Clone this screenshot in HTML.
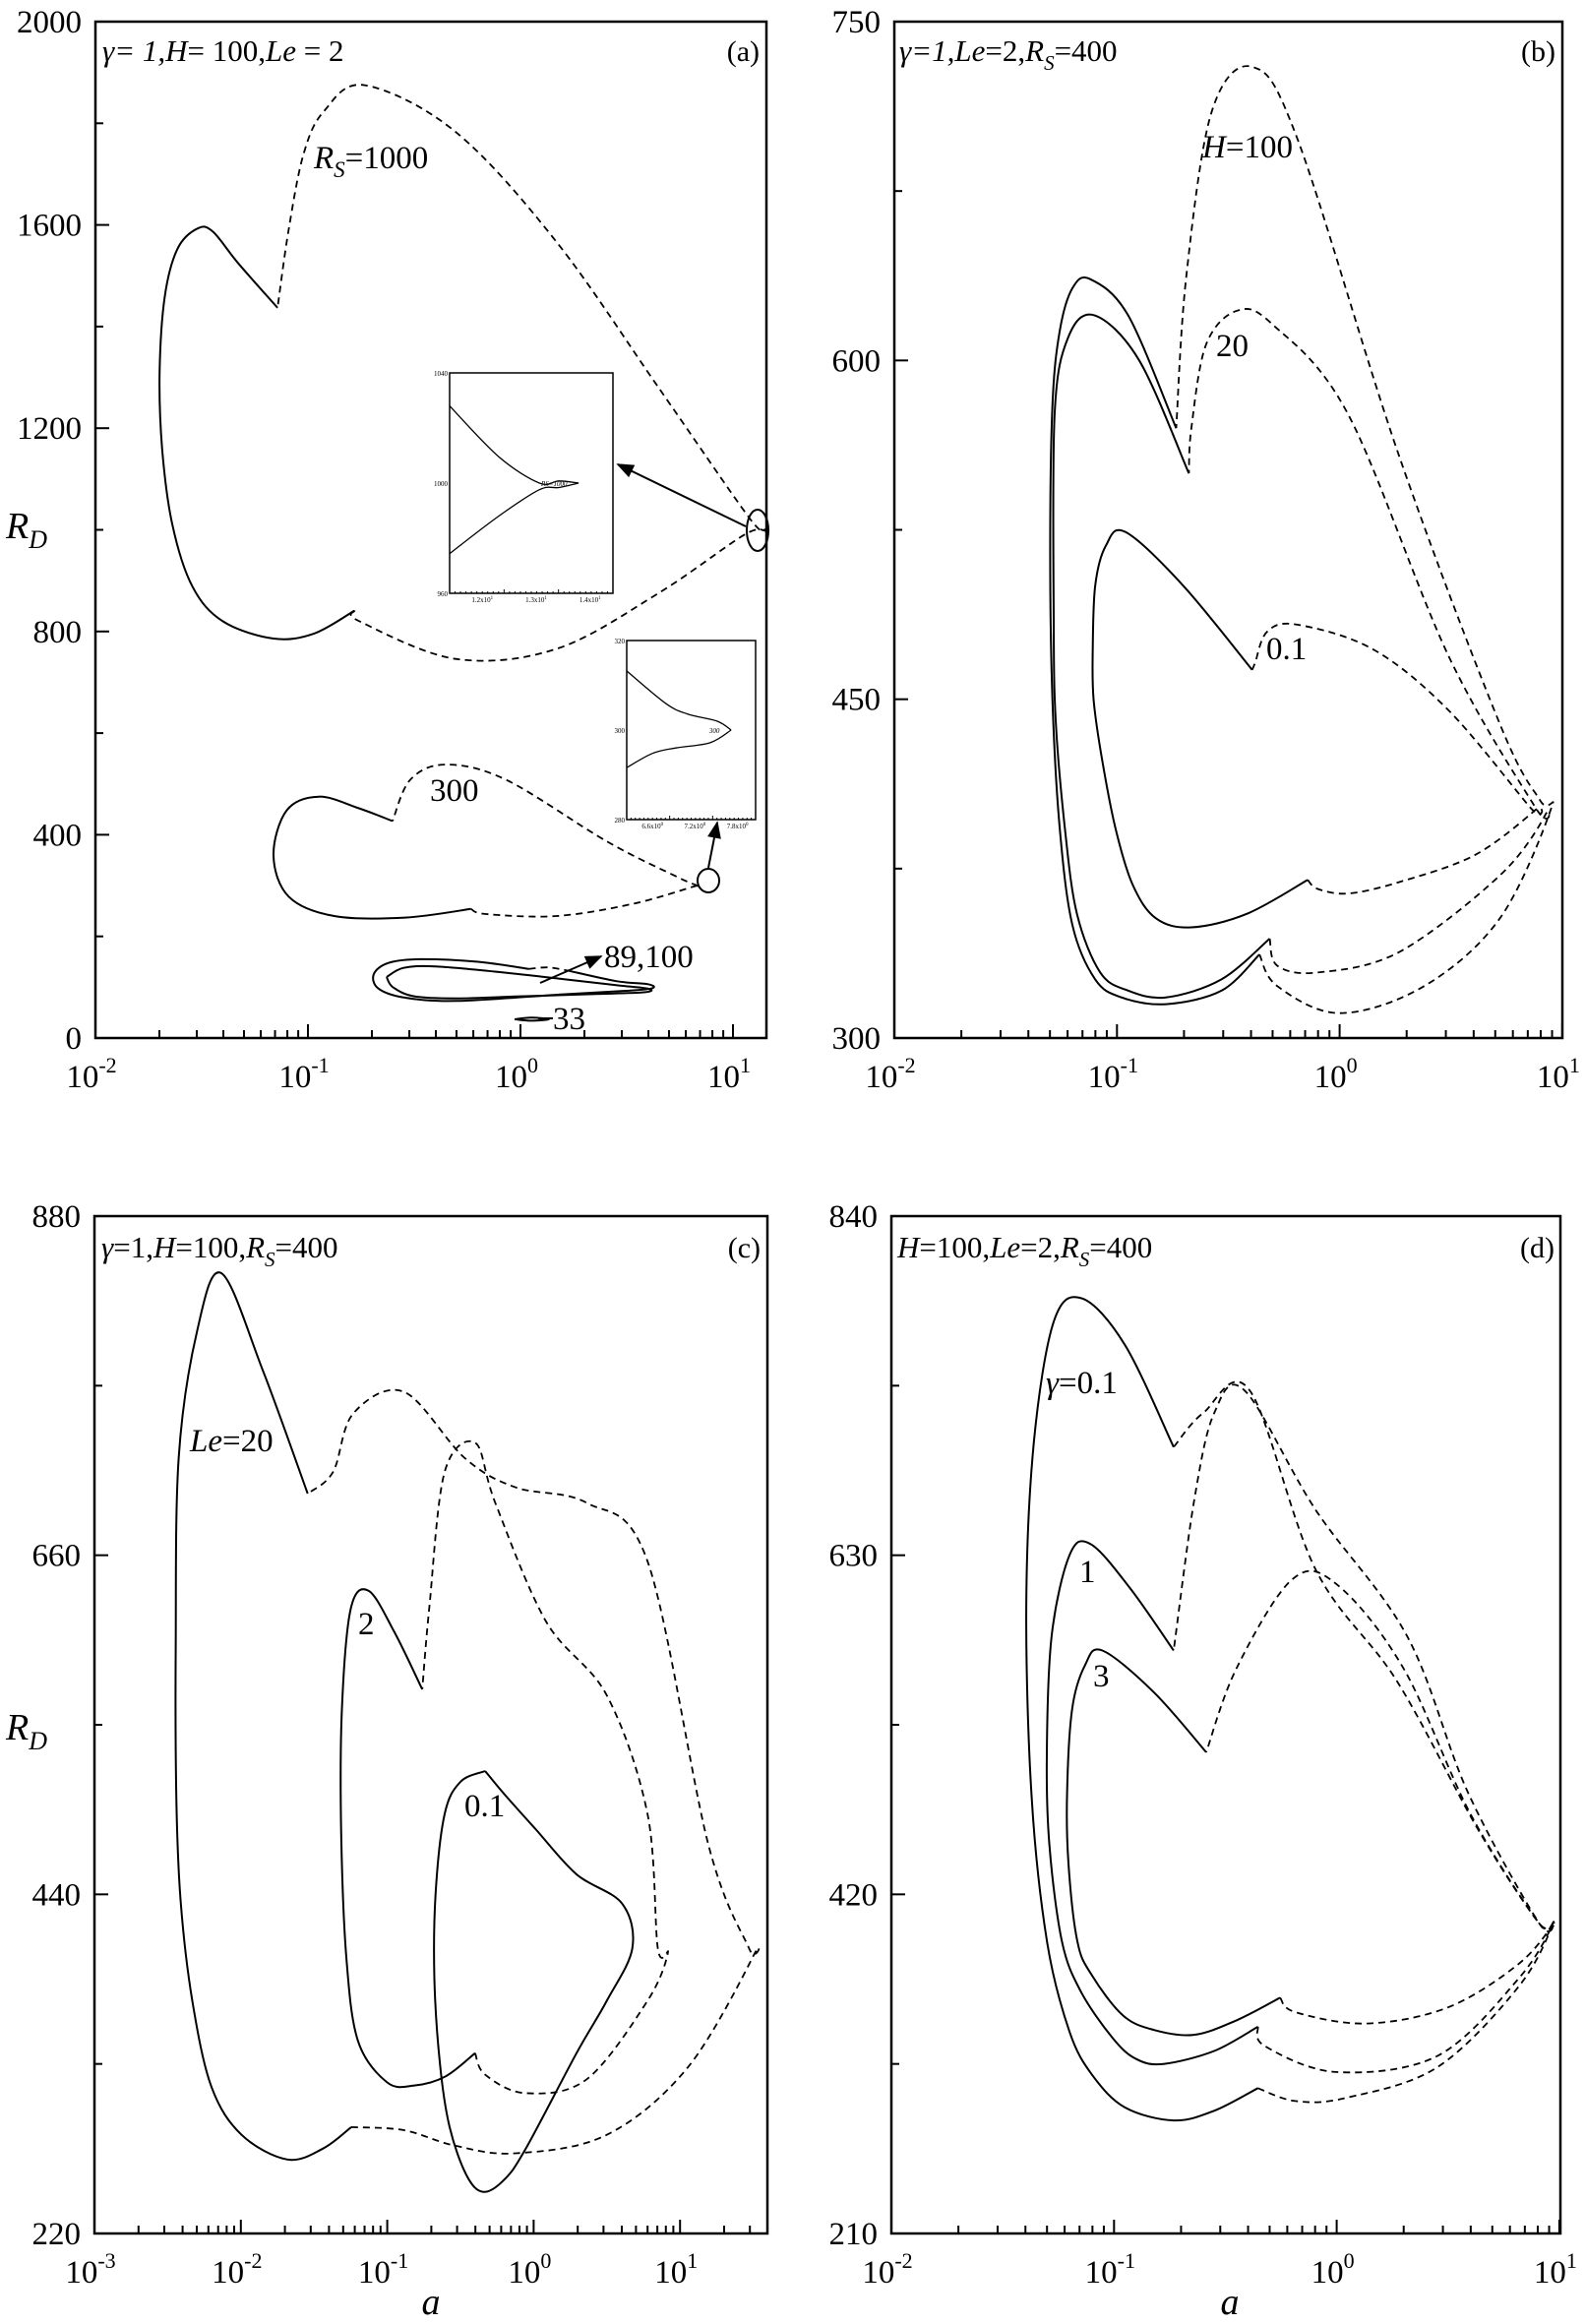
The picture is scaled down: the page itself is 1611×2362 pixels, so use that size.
<!DOCTYPE html>
<html><head><meta charset="utf-8">
<style>
html,body{margin:0;padding:0;background:#fff;}
svg{display:block;font-family:"Liberation Serif",serif;}
</style></head>
<body>
<svg id="fig" width="1611" height="2362" viewBox="0 0 1611 2362" xmlns="http://www.w3.org/2000/svg">
<rect width="1611" height="2362" fill="#fff"/>
<g id="layer"></g>
</svg>
<script>
// ---- data (x values stored as log10(a)) ----
// Panel (a)
const aRs1000SolidLog=[-0.781,-0.971,-1.162,-1.4,-1.543,-1.638,-1.686,-1.698,-1.674,-1.614,-1.519,-1.448,-1.329,-1.143];
const aRs1000SolidR=[841,796,786,820,888,1010,1159,1309,1458,1553,1593,1587,1525,1437];
const aRs1000DashLog=[-0.781,-0.757,-0.305,0.171,0.648,1.052,1.148,1.076,0.648,0.171,-0.305,-0.733,-0.924,-1.019,-1.09,-1.143];
const aRs1000DashR=[841,820,746,766,875,990,1000,1024,1281,1566,1783,1875,1824,1742,1593,1437];
const aRs300SolidLog=[-0.602,-0.76,-0.948,-1.1,-1.162,-1.09,-0.876,-0.543,-0.233];
const aRs300SolidR=[427,452,475,448,359,278,240,237,254];
const aRs300DashLog=[-0.233,-0.162,0.171,0.529,0.814,0.83,0.743,0.41,-0.067,-0.352,-0.519,-0.602];
const aRs300DashR=[254,244,240,264,298,300,316,386,508,538,508,427];
const aRs100SolidLog=[0.22,0.45,0.6,0.62,0.5,0.2,-0.3,-0.55,-0.67,-0.69,-0.62,-0.47,-0.2,0.04];
const aRs100SolidR=[133,112,106,98,93,86,73,80,98,126,148,155,150,136];
const aRs100DashLog=[0.04,0.13,0.22];
const aRs100DashR=[136,139,133];
const aRs89Log=[-0.63,-0.55,-0.4,-0.1,0.2,0.45,0.6,0.58,0.3,0,-0.3,-0.5,-0.6,-0.63];
const aRs89R=[120,138,141,130,116,104,97,90,86,82,78,82,100,120];
const aRs33Log=[-0.028,0.05,0.134,0.05,-0.028];
const aRs33R=[37,40,37,34,37];
// Panel (b)
const bH100SolidLog=[-0.36,-0.53,-0.78,-0.98,-1.098,-1.2,-1.257,-1.29,-1.3,-1.29,-1.257,-1.2,-1.12,-0.95,-0.734];
const bH100SolidR=[337,321,315,318,326,350,393,450,515,580,613,632,636,620,570];
const bH100DashLog=[-0.36,-0.28,0.0,0.38,0.72,0.948,0.902,0.72,0.266,-0.189,-0.393,-0.575,-0.689,-0.734];
const bH100DashR=[337,323,311,323,353,401,405,439,558,698,730,710,637,570];
const bH20SolidLog=[-0.314,-0.53,-0.78,-0.95,-1.075,-1.18,-1.234,-1.275,-1.284,-1.28,-1.22,-1.102,-0.9,-0.677];
const bH20SolidR=[344,326,318,321,329,355,393,440,485,576,610,620,600,550];
const bH01SolidLog=[-0.143,-0.416,-0.666,-0.825,-0.93,-1.007,-1.07,-1.105,-1.109,-1.098,-1.05,-0.961,-0.7,-0.393];
const bH01SolidR=[370,355,349,353,368,393,425,450,470,500,518,524,500,463];
const bH20DashLog=[-0.314,-0.28,-0.098,0.266,0.72,0.925,0.88,0.49,0.039,-0.302,-0.461,-0.6,-0.666,-0.677];
const bH20DashR=[344,332,329,338,372,399,402,469,576,616,622,607,570,550];
const bH01DashLog=[-0.143,-0.098,0.039,0.266,0.607,0.88,0.857,0.49,0.152,-0.189,-0.325,-0.38,-0.393];
const bH01DashR=[370,366,364,369,381,401,402,445,472,483,480,466,463];
// Panel (c)
const cLe20SolidLog=[-1.246,-1.44,-1.683,-1.995,-2.2,-2.33,-2.41,-2.44,-2.445,-2.425,-2.3,-2.133,-1.85,-1.544];
const cLe20SolidR=[289,275,268,284,315,370,434,500,600,723,805,843,780,700];
const cLe20DashLog=[-1.246,-0.886,-0.539,-0.123,0.5,1.055,1.506,1.471,1.194,0.778,0.362,-0.123,-0.47,-0.886,-1.232,-1.37,-1.544];
const cLe20DashR=[289,287,277,272,284,328,401,405,472,656,694,704,723,766,752,714,700];
const cLe2SolidLog=[-0.4,-0.6,-0.816,-1.0,-1.2,-1.28,-1.315,-1.31,-1.25,-1.128,-0.95,-0.761];
const cLe2SolidR=[337,322,316,318,345,400,482,560,625,637,610,573];
const cLe2DashLog=[-0.4,-0.331,-0.054,0.362,0.778,0.917,0.848,0.778,0.5,0.085,-0.262,-0.4,-0.608,-0.712,-0.761];
const cLe2DashR=[337,323,311,320,371,402,405,492,569,617,694,733,714,627,573];
const cLe01Log=[-0.331,-0.5,-0.608,-0.67,-0.678,-0.64,-0.574,-0.46,-0.345,-0.2,-0.054,0.293,0.5,0.674,0.604,0.293,0.016,-0.2,-0.331];
const cLe01R=[520,513,492,440,385,330,289,258,247,255,275,337,371,405,434,453,482,505,520];
// Panel (d)
const dG01SolidLog=[-0.354,-0.55,-0.732,-0.95,-1.097,-1.2,-1.3,-1.37,-1.394,-1.36,-1.27,-1.143,-0.95,-0.732];
const dG01SolidR=[300,286,280,288,308,335,390,480,598,700,775,789,760,697];
const dG01DashLog=[-0.354,-0.185,0.043,0.453,0.818,0.97,0.91,0.636,0.271,-0.094,-0.39,-0.6,-0.732];
const dG01DashR=[300,292,294,313,363,402,402,460,552,621,732,718,697];
const dG1SolidLog=[-0.354,-0.55,-0.778,-0.9,-1.006,-1.15,-1.234,-1.29,-1.302,-1.28,-1.2,-1.106,-0.93,-0.732];
const dG1SolidR=[338,323,315,318,331,360,391,450,506,580,630,637,610,571];
const dG1DashLog=[-0.354,-0.322,-0.003,0.453,0.818,0.97,0.91,0.59,0.316,-0.094,-0.413,-0.55,-0.641,-0.732];
const dG1DashR=[338,326,310,320,368,402,402,483,580,658,732,718,663,571];
const dG3SolidLog=[-0.254,-0.45,-0.641,-0.82,-0.96,-1.1,-1.165,-1.205,-1.211,-1.188,-1.13,-1.052,-0.82,-0.586];
const dG3SolidR=[356,342,333,336,345,370,391,440,483,535,562,571,545,508];
const dG3DashLog=[-0.254,-0.185,0.134,0.5,0.818,0.97,0.91,0.6,0.3,0.0,-0.2,-0.45,-0.586];
const dG3DashR=[356,347,340,350,377,402,402,470,560,612,615,560,508];

// ---- tick labels ----
const aYTicks=[0,400,800,1200,1600,2000];
const bYTicks=[300,450,600,750];
const cYTicks=[220,440,660,880];
const dYTicks=[210,420,630,840];
const abdXExp=[-2,-1,0,1];
const cXExp=[-3,-2,-1,0,1];

const NS="http://www.w3.org/2000/svg";
const layer=document.getElementById('layer');
function mk(tag,attrs,parent){const e=document.createElementNS(NS,tag);for(const k in attrs)e.setAttribute(k,attrs[k]);(parent||layer).appendChild(e);return e;}

function makePanel(o){
  o.px=l=>o.x0+(l-o.lmin)*o.dec;
  o.py=r=>o.y1-(r-o.rmin)/(o.rmax-o.rmin)*(o.y1-o.y0);
  return o;
}
const P={
 a:makePanel({x0:97,x1:779,y0:22,y1:1055,lmin:-2,dec:216,rmin:0,rmax:2000}),
 b:makePanel({x0:909,x1:1588,y0:22,y1:1055,lmin:-2,dec:226.3,rmin:300,rmax:750}),
 c:makePanel({x0:96,x1:780,y0:1236,y1:2270,lmin:-3,dec:148.8,rmin:220,rmax:880}),
 d:makePanel({x0:906,x1:1586,y0:1236,y1:2270,lmin:-2,dec:226.3,rmin:210,rmax:840})
};

function crPath(pts){
  let d='M'+pts[0][0].toFixed(1)+','+pts[0][1].toFixed(1);
  for(let i=0;i<pts.length-1;i++){
    const p0=pts[i-1]||pts[i],p1=pts[i],p2=pts[i+1],p3=pts[i+2]||p2;
    const c1=[p1[0]+(p2[0]-p0[0])/6,p1[1]+(p2[1]-p0[1])/6];
    const c2=[p2[0]-(p3[0]-p1[0])/6,p2[1]-(p3[1]-p1[1])/6];
    d+='C'+c1[0].toFixed(1)+','+c1[1].toFixed(1)+' '+c2[0].toFixed(1)+','+c2[1].toFixed(1)+' '+p2[0].toFixed(1)+','+p2[1].toFixed(1);
  }
  return d;
}
function curve(p,logs,rs,dashed,name){
  const pts=logs.map((l,i)=>[p.px(l),p.py(rs[i])]);
  const e=mk('path',{d:crPath(pts),fill:'none',stroke:'#000','stroke-width':dashed?1.8:2,'stroke-dasharray':dashed?'7,5':'none'});
  
  
}
function txt(x,y,s,size,attrs,name){
  const e=mk('text',Object.assign({x:x,y:y,'font-size':size},attrs||{}));
  e.innerHTML=s;
  
  
  return e;
}
function axes(p,key,yTicks,yMinorStep,xExps){
  const f=mk('rect',{x:p.x0,y:p.y0,width:p.x1-p.x0,height:p.y1-p.y0,fill:'none',stroke:'#000','stroke-width':2.5});
  
  
  for(let r=p.rmin;r<=p.rmax+0.01;r+=yMinorStep){
    const y=p.py(r);const major=yTicks.indexOf(r)>=0;
    mk('line',{x1:p.x0,x2:p.x0+(major?14:8),y1:y,y2:y,stroke:'#000','stroke-width':2});
  }
  yTicks.forEach(r=>{txt(p.x0-14,p.py(r)+11,String(r),33,{'text-anchor':'end'},'y-tick-label-'+key);});
  const lmax=p.lmin+(p.x1-p.x0)/p.dec;
  for(let e=p.lmin;e<=Math.ceil(lmax);e++){
    for(let m=1;m<10;m++){
      const l=e+Math.log10(m); if(l>lmax+1e-6) break;
      const x=p.px(l);
      mk('line',{x1:x,x2:x,y1:p.y1,y2:p.y1-(m===1?14:8),stroke:'#000','stroke-width':2});
    }
  }
  xExps.forEach(e=>{
    txt(p.px(e)-4,p.y1+50,'10<tspan dy="-15" font-size="22">'+e+'</tspan>',33,{'text-anchor':'middle'},'x-tick-label-'+key);
  });
}
axes(P.a,'a',aYTicks,200,abdXExp);
axes(P.b,'b',bYTicks,75,abdXExp);
axes(P.c,'c',cYTicks,110,cXExp);
axes(P.d,'d',dYTicks,105,abdXExp);

txt(6,547,'<tspan font-style="italic">R</tspan><tspan dy="10" font-size="26" font-style="italic">D</tspan>',38,{},'y-axis-title-a');
txt(6,1768,'<tspan font-style="italic">R</tspan><tspan dy="10" font-size="26" font-style="italic">D</tspan>',38,{},'y-axis-title-c');
txt(438,2352,'a',38,{'font-style':'italic','text-anchor':'middle'},'x-axis-title-c');
txt(1250,2352,'a',38,{'font-style':'italic','text-anchor':'middle'},'x-axis-title-d');

txt(104,62,'<tspan font-style="italic">γ= 1,H</tspan>= 100,<tspan font-style="italic">Le</tspan> = 2',31,{},'panel-a-params');
txt(772,62,'(a)',30,{'text-anchor':'end'},'panel-a-label');
txt(914,62,'<tspan font-style="italic">γ=1,Le</tspan>=2,<tspan font-style="italic">R</tspan><tspan dy="9" font-size="21" font-style="italic">S</tspan><tspan dy="-9">=400</tspan>',31,{},'panel-b-params');
txt(1581,62,'(b)',30,{'text-anchor':'end'},'panel-b-label');
txt(103,1278,'<tspan font-style="italic">γ</tspan>=1,<tspan font-style="italic">H</tspan>=100,<tspan font-style="italic">R</tspan><tspan dy="9" font-size="21" font-style="italic">S</tspan><tspan dy="-9">=400</tspan>',31,{},'panel-c-params');
txt(773,1278,'(c)',30,{'text-anchor':'end'},'panel-c-label');
txt(912,1278,'<tspan font-style="italic">H</tspan>=100,<tspan font-style="italic">Le</tspan>=2,<tspan font-style="italic">R</tspan><tspan dy="9" font-size="21" font-style="italic">S</tspan><tspan dy="-9">=400</tspan>',31,{},'panel-d-params');
txt(1580,1278,'(d)',30,{'text-anchor':'end'},'panel-d-label');

const pa=P.a,pb=P.b,pc=P.c,pd=P.d;
curve(pa,aRs1000SolidLog,aRs1000SolidR,false,'rs1000-solid');
curve(pa,aRs1000DashLog,aRs1000DashR,true,'rs1000-dashed');
curve(pa,aRs300SolidLog,aRs300SolidR,false,'rs300-solid');
curve(pa,aRs300DashLog,aRs300DashR,true,'rs300-dashed');
curve(pa,aRs100SolidLog,aRs100SolidR,false,'rs100-solid');
curve(pa,aRs100DashLog,aRs100DashR,true,'rs100-dashed');
curve(pa,aRs89Log,aRs89R,false,'rs89-loop');
curve(pa,aRs33Log,aRs33R,false,'rs33-loop');
curve(pb,bH100SolidLog,bH100SolidR,false,'h100-solid');
curve(pb,bH100DashLog,bH100DashR,true,'h100-dashed');
curve(pb,bH20SolidLog,bH20SolidR,false,'h20-solid');
curve(pb,bH20DashLog,bH20DashR,true,'h20-dashed');
curve(pb,bH01SolidLog,bH01SolidR,false,'h01-solid');
curve(pb,bH01DashLog,bH01DashR,true,'h01-dashed');
curve(pc,cLe20SolidLog,cLe20SolidR,false,'le20-solid');
curve(pc,cLe20DashLog,cLe20DashR,true,'le20-dashed');
curve(pc,cLe2SolidLog,cLe2SolidR,false,'le2-solid');
curve(pc,cLe2DashLog,cLe2DashR,true,'le2-dashed');
curve(pc,cLe01Log,cLe01R,false,'le01-loop');
curve(pd,dG01SolidLog,dG01SolidR,false,'gamma01-solid');
curve(pd,dG01DashLog,dG01DashR,true,'gamma01-dashed');
curve(pd,dG1SolidLog,dG1SolidR,false,'gamma1-solid');
curve(pd,dG1DashLog,dG1DashR,true,'gamma1-dashed');
curve(pd,dG3SolidLog,dG3SolidR,false,'gamma3-solid');
curve(pd,dG3DashLog,dG3DashR,true,'gamma3-dashed');

txt(319,171,'<tspan font-style="italic">R</tspan><tspan dy="9" font-size="23" font-style="italic">S</tspan><tspan dy="-9">=1000</tspan>',33,{},'label-rs1000');
txt(437,814,'300',33,{},'label-rs300');
txt(614,983,'89,100',33,{},'label-rs89-100');
txt(562,1046,'33',33,{},'label-rs33');
mk('line',{x1:547,x2:562,y1:1035,y2:1035,stroke:'#000','stroke-width':2});
txt(1222,160,'<tspan font-style="italic">H</tspan>=100',33,{},'label-h100');
txt(1236,362,'20',33,{},'label-h20');
txt(1287,670,'0.1',33,{},'label-h01');
txt(193,1475,'<tspan font-style="italic">Le</tspan>=20',33,{},'label-le20');
txt(364,1661,'2',33,{},'label-le2');
txt(472,1846,'0.1',33,{},'label-le01');
txt(1063,1416,'<tspan font-style="italic">γ</tspan>=0.1',33,{},'label-gamma01');
txt(1097,1608,'1',33,{},'label-gamma1');
txt(1111,1714,'3',33,{},'label-gamma3');

mk('defs',{}).innerHTML='<marker id="ah" markerWidth="22" markerHeight="14" refX="9" refY="4" orient="auto" markerUnits="userSpaceOnUse" viewBox="0 0 10 8"><path d="M0,0 L10,4 L0,8 z"/></marker>';
mk('ellipse',{cx:770,cy:539,rx:11,ry:21,fill:'none',stroke:'#000','stroke-width':2});
mk('ellipse',{cx:720,cy:895,rx:11,ry:12,fill:'none',stroke:'#000','stroke-width':2});
[[758,535,628,472],[720,882,729,836],[549,999,611,972]].forEach(a=>{
  const ln=mk('line',{x1:a[0],y1:a[1],x2:a[2],y2:a[3],stroke:'#000','stroke-width':2});
  ln.setAttribute('marker-end','url(#ah)');
});

function inset(x0,y0,x1,y1,yl,xl,lab,name,topPts,botPts){
  const g=mk('g',{});
  
  
  mk('rect',{x:x0,y:y0,width:x1-x0,height:y1-y0,fill:'#fff',stroke:'#000','stroke-width':1.5},g);
  const w=x1-x0,h=y1-y0;
  mk('path',{d:crPath(topPts.map(p=>[x0+p[0]*w,y0+p[1]*h])),fill:'none',stroke:'#000','stroke-width':1.3},g);
  mk('path',{d:crPath(botPts.map(p=>[x0+p[0]*w,y0+p[1]*h])),fill:'none',stroke:'#000','stroke-width':1.3},g);
  for(let i=1;i<30;i++){const x=x0+i*w/30;mk('line',{x1:x,x2:x,y1:y1,y2:y1-(i%10==0?4:2),stroke:'#000','stroke-width':1},g);}
  yl.forEach((s,i)=>{const t=mk('text',{x:x0-2,y:y0+i*h/2+3,'font-size':7,'text-anchor':'end'},g);t.textContent=s;});
  xl.forEach((s,i)=>{const t=mk('text',{x:x0+w*(0.2+i*0.33),y:y1+9,'font-size':7,'text-anchor':'middle'},g);t.innerHTML=s;});
  const t=mk('text',{x:x0+w*0.72,y:y0+h*0.5+3,'font-size':7,'font-style':'italic','text-anchor':'end'},g);t.textContent=lab;
}
inset(457,379,623,603,['1040','1000','960'],['1.2x10<tspan dy="-3" font-size="5">1</tspan>','1.3x10<tspan dy="-3" font-size="5">1</tspan>','1.4x10<tspan dy="-3" font-size="5">1</tspan>'],'RS=1000','inset-rs1000',
 [[0,0.15],[0.3,0.38],[0.55,0.5],[0.67,0.49],[0.79,0.5]],[[0,0.82],[0.3,0.65],[0.55,0.53],[0.67,0.52],[0.79,0.5]]);
inset(637,651,768,833,['320','300','280'],['6.6x10<tspan dy="-3" font-size="5">0</tspan>','7.2x10<tspan dy="-3" font-size="5">0</tspan>','7.8x10<tspan dy="-3" font-size="5">0</tspan>'],'300','inset-rs300',
 [[0,0.17],[0.3,0.35],[0.47,0.41],[0.7,0.45],[0.81,0.5]],[[0,0.71],[0.2,0.63],[0.38,0.6],[0.65,0.57],[0.81,0.5]]);
</script>
</body></html>
